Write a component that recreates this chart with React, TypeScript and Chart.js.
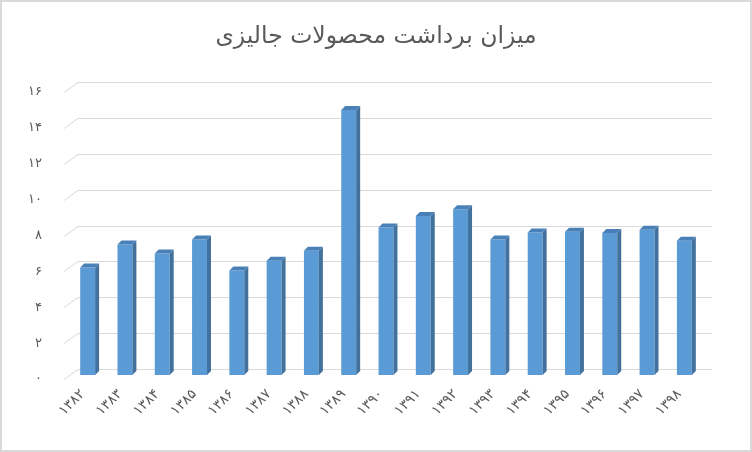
import React, { useEffect, useRef } from "react";
import { Chart, registerables } from "chart.js";

Chart.register(...registerables);

const chartTitle = "میزان برداشت محصولات جالیزی";
const years = [
  "۱۳۸۲", "۱۳۸۳", "۱۳۸۴", "۱۳۸۵", "۱۳۸۶", "۱۳۸۷", "۱۳۸۸", "۱۳۸۹", "۱۳۹۰",
  "۱۳۹۱", "۱۳۹۲", "۱۳۹۳", "۱۳۹۴", "۱۳۹۵", "۱۳۹۶", "۱۳۹۷", "۱۳۹۸",
];
const harvest = [
  6.0, 7.28, 6.78, 7.56, 5.82, 6.37, 6.93, 14.77, 8.22,
  8.86, 9.24, 7.56, 7.95, 7.99, 7.92, 8.1, 7.49,
];
const yMin = 0;
const yMax = 16;
const yStep = 2;
const persianDigits = ["۰", "۱", "۲", "۳", "۴", "۵", "۶", "۷", "۸", "۹"];

const toPersian = (n: number) =>
  String(n).replace(/[0-9]/g, (d) => persianDigits[Number(d)]);

const FONT = "'DejaVu Sans', Arial, sans-serif";
const TEXT = "#595959";
const GRID = "#D9D9D9";
const FRONT = "#5B9BD5";
const SIDE = "#41719C";
const TOP = "#4A80B8";

const framePlugin = {
  id: "frame",
  beforeDraw(chart: any) {
    const { ctx, width, height } = chart;
    ctx.save();
    ctx.fillStyle = "#FFFFFF";
    ctx.fillRect(0, 0, width, height);
    ctx.fillStyle = GRID;
    ctx.fillRect(0, 0, width, 2);
    ctx.fillRect(0, height - 2, width, 2);
    ctx.fillRect(0, 0, 2, height);
    ctx.fillRect(width - 2, 0, 2, height);
    ctx.fillStyle = TEXT;
    ctx.font = `normal 23.5px ${FONT}`;
    ctx.textAlign = "center";
    ctx.textBaseline = "middle";
    ctx.direction = "rtl";
    ctx.fillText(chartTitle, width / 2, 37);
    ctx.restore();
  },
};

const grid3dPlugin = {
  id: "grid3d",
  beforeDatasetsDraw(chart: any) {
    const { ctx, chartArea, scales } = chart;
    const y = scales.y;
    ctx.save();
    ctx.strokeStyle = GRID;
    ctx.lineWidth = 1;
    y.ticks.forEach((t: any) => {
      const py = Math.round(y.getPixelForValue(t.value));
      const backY = py - 6 + 0.5;
      const frontY = py + 4 + 0.5;
      ctx.beginPath();
      ctx.moveTo(chartArea.left - 5, frontY);
      ctx.lineTo(chartArea.left + 9, backY);
      ctx.lineTo(chartArea.right + 9, backY);
      ctx.stroke();
    });
    ctx.restore();
  },
};

const bar3dPlugin = {
  id: "bar3d",
  afterDatasetsDraw(chart: any) {
    const { ctx } = chart;
    const meta = chart.getDatasetMeta(0);
    const dx = 4;
    const dy = 4;
    ctx.save();
    meta.data.forEach((bar: any) => {
      const { x, y, base, width } = bar.getProps(["x", "y", "base", "width"], true);
      const l = x - width / 2;
      const r = x + width / 2;
      ctx.fillStyle = SIDE;
      ctx.beginPath();
      ctx.moveTo(r, y);
      ctx.lineTo(r + dx, y - dy);
      ctx.lineTo(r + dx, base - dy);
      ctx.lineTo(r, base);
      ctx.closePath();
      ctx.fill();
      ctx.fillStyle = TOP;
      ctx.beginPath();
      ctx.moveTo(l, y);
      ctx.lineTo(l + dx, y - dy);
      ctx.lineTo(r + dx, y - dy);
      ctx.lineTo(r, y);
      ctx.closePath();
      ctx.fill();
    });
    ctx.restore();
  },
};

export default function App() {
  const canvasRef = useRef<HTMLCanvasElement | null>(null);

  useEffect(() => {
    document.body.style.margin = "0";
    const canvas = canvasRef.current;
    if (!canvas) return;
    const chart = new Chart(canvas, {
      type: "bar",
      data: {
        labels: years,
        datasets: [
          {
            data: harvest,
            backgroundColor: FRONT,
            borderWidth: 0,
            categoryPercentage: 1,
            barPercentage: 0.4,
          },
        ],
      },
      plugins: [framePlugin, grid3dPlugin, bar3dPlugin],
      options: {
        responsive: false,
        animation: false,
        devicePixelRatio: 1,
        layout: { padding: { left: 0, right: 49, top: 88, bottom: 0 } },
        plugins: {
          legend: { display: false },
          tooltip: { enabled: false },
          title: { display: false },
        },
        scales: {
          x: {
            grid: { display: false, drawTicks: false },
            border: { display: false },
            ticks: {
              color: TEXT,
              font: { family: FONT, size: 14 },
              minRotation: 45,
              maxRotation: 45,
              autoSkip: false,
              padding: 11,
              labelOffset: -5,
            },
            afterFit: (s: any) => {
              s.height = 77;
            },
          },
          y: {
            min: yMin,
            max: yMax,
            grid: { display: false, drawTicks: false },
            border: { display: false },
            ticks: {
              stepSize: yStep,
              color: TEXT,
              font: { family: FONT, size: 13 },
              padding: 27,
              labelOffset: 4,
              callback: (v: any) => toPersian(Number(v)),
            },
            afterFit: (s: any) => {
              s.width = 69;
            },
          },
        },
      },
    });
    return () => chart.destroy();
  }, []);

  return (
    <div style={{ width: 752, height: 452 }}>
      <canvas ref={canvasRef} width={752} height={452} />
    </div>
  );
}
